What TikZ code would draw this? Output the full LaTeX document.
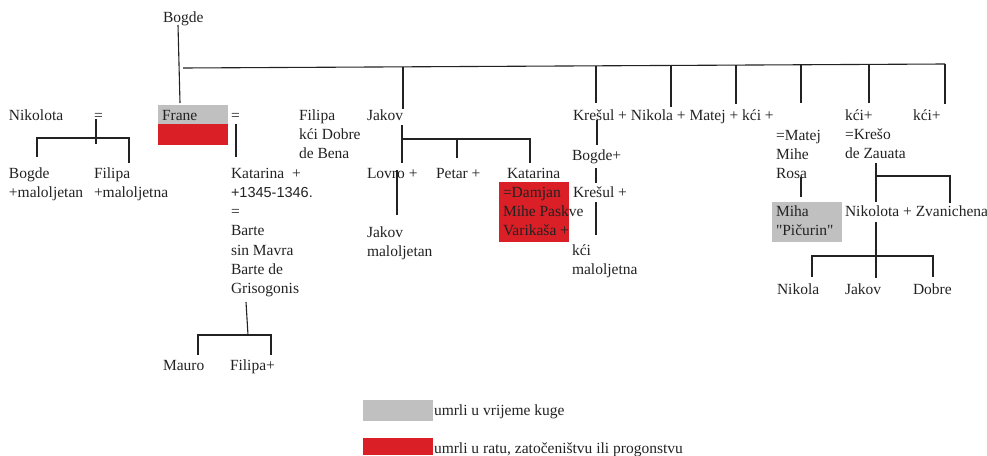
\documentclass[tikz,border=0pt]{standalone}
\usepackage{fontspec}
\setmainfont{Liberation Serif}[Ligatures=TeXOff]
\newfontfamily\arialfont{Liberation Sans}
\definecolor{plague}{HTML}{C0C0C0}
\definecolor{war}{HTML}{DA1F26}
\definecolor{ink}{HTML}{222222}
\begin{document}
\begin{tikzpicture}[x=1pt,y=-1pt,
  lbl/.style={anchor=base west,inner sep=0pt,outer sep=0pt,align=left,text=ink,
    font=\fontsize{15.5}{19.3}\selectfont},
  link/.style={draw=ink,line width=1.1pt},
  plaguebox/.style={fill=plague},
  warbox/.style={fill=war}]
\useasboundingbox (0,0) rectangle (987,455);
% coloured boxes
\fill[plaguebox] (158,105) rectangle (228,124);
\fill[warbox] (158,124) rectangle (228,145);
\fill[warbox] (499,182) rectangle (569,242);
\fill[plaguebox] (772,202) rectangle (842,242);
\fill[plaguebox] (363,400) rectangle (433,421);
\fill[warbox] (363,438) rectangle (433,455);
% texts (multi-line nodes are placed by the baseline of their last line)
\node[lbl] (bogde0) at (163,23) {Bogde};
\node[lbl] (frane) at (162,120) {Frane};
\node[lbl] (nikolota0) at (9,120) {Nikolota};
\node[lbl] (eqa) at (94,120) {=};
\node[lbl] (eqb) at (231,120) {=};
\node[lbl] (bogde1) at (9,197.3) {Bogde\\+maloljetan};
\node[lbl] (filipa1) at (94,197.3) {Filipa\\+maloljetna};
\node[lbl] (katarina1) at (231,293.8) {Katarina\ \ +\\{\arialfont\fontsize{14.5}{19.3}\selectfont +1345-1346.}\\=\\Barte\\sin Mavra\\Barte de\\Grisogonis};
\node[lbl] (filipa2) at (299,158.6) {Filipa\\kći Dobre\\de Bena};
\node[lbl] (jakov1) at (367,120) {Jakov};
\node[lbl] (lovro) at (367,178) {Lovro +};
\node[lbl] (petar) at (436,178) {Petar +};
\node[lbl] (katarina2) at (507,178) {Katarina};
\node[lbl] (damjan) at (503,235.6) {=Damjan\\Mihe Paskve\\Varikaša +};
\node[lbl] (jakov2) at (367,256.3) {Jakov\\maloljetan};
\node[lbl] (kresul1) at (573,120) {Krešul + Nikola + Matej + kći +};
\node[lbl] (bogde2) at (572,160) {Bogde+};
\node[lbl] (kresul2) at (573,197) {Krešul +};
\node[lbl] (kci1) at (572,274.3) {kći\\maloljetna};
\node[lbl] (matej) at (776,178.6) {=Matej\\Mihe\\Rosa};
\node[lbl] (kci2) at (845,158.6) {kći+\\=Krešo\\de Zauata};
\node[lbl] (kci3) at (913,120) {kći+};
\node[lbl] (miha) at (776,235.3) {Miha\\"Pičurin"};
\node[lbl] (nikolota1) at (845,216) {Nikolota + Zvanichena};
\node[lbl] (nikola) at (777,294) {Nikola};
\node[lbl] (jakov3) at (845,294) {Jakov};
\node[lbl] (dobre) at (913,294) {Dobre};
\node[lbl] (mauro) at (163,370) {Mauro};
\node[lbl] (filipa3) at (230,370) {Filipa+};
\node[lbl] (leg1) at (434,415) {umrli u vrijeme kuge};
\node[lbl] (leg2) at (434,453) {umrli u ratu, zatočeništvu ili progonstvu};
% connectors
\draw[link] (178,25) -- (180,103);
\draw[link] (183,68) -- (945,64);
\draw[link] (403,66.8) -- (403,109);
\draw[link] (596,65.8) -- (596,103);
\draw[link] (671,65.4) -- (671,107);
\draw[link] (736,65.1) -- (736,104);
\draw[link] (801,64.8) -- (801,103);
\draw[link] (869,64.4) -- (869,103);
\draw[link] (945,64) -- (945,104);
\draw[link] (96,119) -- (96,144);
\draw[link] (37,157) -- (37,138) -- (129,138) -- (129,163);
\draw[link] (236,124) -- (236,157);
\draw[link] (246,302) -- (248,335);
\draw[link] (198,355) -- (198,335) -- (271,335) -- (271,355);
\draw[link] (402,125) -- (402,163);
\draw[link] (402,139) -- (530,139) -- (530,163);
\draw[link] (457,139) -- (457,158);
\draw[link] (397,170) -- (397,215);
\draw[link] (597,120) -- (597,145);
\draw[link] (596,168) -- (596,183);
\draw[link] (596,202) -- (596,235);
\draw[link] (801,177) -- (801,197);
\draw[link] (876,163) -- (876,202);
\draw[link] (876,176) -- (950,176) -- (950,203);
\draw[link] (876,222) -- (876,278);
\draw[link] (812,277) -- (812,256) -- (933,256) -- (933,277);
\end{tikzpicture}
\end{document}
